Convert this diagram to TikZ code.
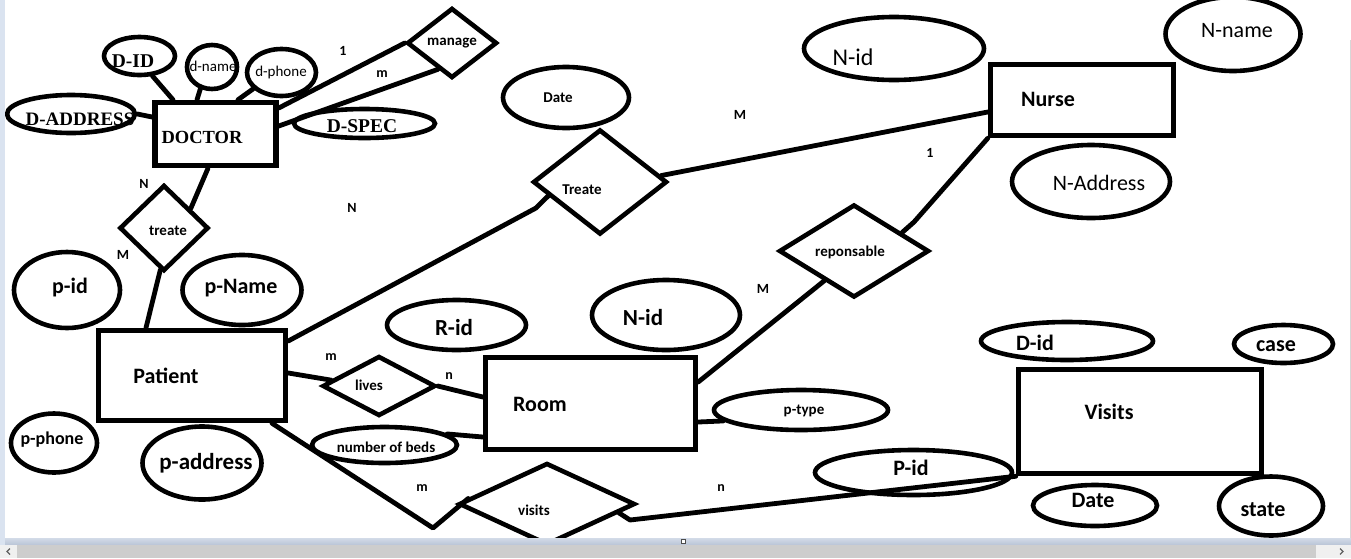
\documentclass[tikz,border=0pt]{standalone}
\usepackage{fontspec}
\setmainfont{Carlito}
\newfontfamily\decofont{Liberation Serif}
\usetikzlibrary{shapes.geometric}
\definecolor{chromeblue}{HTML}{DAE3F0}
\definecolor{bandtop}{HTML}{D3DBE8}
\definecolor{bandbot}{HTML}{B9C4D6}
\definecolor{bargray}{HTML}{CDCDCD}
\definecolor{btngray}{HTML}{F0F0F0}
\definecolor{chev}{HTML}{606060}
\tikzset{
 ln/.style={line width=4.8pt, line cap=round, line join=round},
 ent/.style={draw, line width=5.5pt, rectangle, inner sep=0pt},
 attr/.style={draw, ellipse, line width=4.6pt, inner sep=0pt},
 rel/.style={draw, diamond, line width=4.6pt, inner sep=0pt},
 txt/.style={inner sep=0pt, text=black},
 big/.style={txt, font=\fontsize{22}{22}\selectfont\bfseries},
 sml/.style={txt, font=\fontsize{15}{15}\selectfont\bfseries},
 card/.style={txt, font=\fontsize{14}{14}\selectfont\bfseries},
 thin/.style={txt, font=\fontsize{22}{22}\selectfont},
 reg/.style={txt, font=\fontsize{15}{15}\selectfont},
 deco/.style={txt, font=\decofont\fontsize{19.5}{19.5}\selectfont\bfseries},
}
\begin{document}
\begin{tikzpicture}[x=1pt,y=-1pt]
\useasboundingbox (0,0) rectangle (1351,558);
\fill[white] (0,0) rectangle (1351,558);

% ---------- Doctor ----------
\node[ent, minimum width=121, minimum height=63] (doc) at (215.5,134) {};
\node[deco, font=\decofont\fontsize{18.5}{18.5}\selectfont\bfseries] (tdoc) at (202,137) {DOCTOR};
\node[attr, minimum width=71, minimum height=38] (dID) at (139.5,56) {};
\node[deco] (tdID) at (133,61) {D-ID};
\node[attr, minimum width=50, minimum height=44] (dname) at (212,67) {};
\node[reg] (tdname) at (213,66) {d-name};
\node[attr, minimum width=69, minimum height=47] (dphone) at (281.5,72.5) {};
\node[reg] (tdphone) at (281,72) {d-phone};
\node[attr, minimum width=128, minimum height=38] (dadr) at (71,114) {};
\node[deco, font=\decofont\fontsize{19}{19}\selectfont\bfseries] (tdadr) at (80,119) {D-ADDRESS};
\node[attr, minimum width=141, minimum height=29] (dspec) at (364.5,123.5) {};
\node[deco] (tdspec) at (362,126) {D-SPEC};
\node[rel, minimum width=90, minimum height=70] (mng) at (452,43) {};
\node[sml] (tmng) at (452,43) {manage};
\node[rel, minimum width=89, minimum height=86] (trt) at (164,228) {};
\node[sml] (ttrt) at (168,231) {treate};

% ---------- Patient ----------
\node[ent, minimum width=187, minimum height=90] (pat) at (192,375.5) {};
\node[big] (tpat) at (166,376) {Patient};
\node[attr, minimum width=106, minimum height=76] (pid) at (67,290) {};
\node[big] (tpid) at (70,288) {p-id};
\node[attr, minimum width=119, minimum height=70] (pname) at (242,290) {};
\node[big] (tpname) at (241,288) {p-Name};
\node[attr, minimum width=86, minimum height=59] (pphone) at (54,443) {};
\node[txt, font=\fontsize{18}{18}\selectfont\bfseries] (tpphone) at (52,440) {p-phone};
\node[attr, minimum width=119, minimum height=73] (paddr) at (202,463) {};
\node[big, font=\fontsize{23}{23}\selectfont\bfseries] (tpaddr) at (206,463) {p-address};

% ---------- Treate / Nurse ----------
\node[rel, minimum width=134, minimum height=105] (TRT) at (600,182) {};
\node[sml] (tTRT) at (582,190) {Treate};
\node[attr, minimum width=126, minimum height=61] (dateT) at (566,97.5) {};
\node[sml] (tdateT) at (558,98) {Date};
\node[ent, minimum width=183, minimum height=71] (nur) at (1082,100) {};
\node[big] (tnur) at (1048,99) {Nurse};
\node[attr, minimum width=180, minimum height=63] (nidT) at (894,48.5) {};
\node[thin, font=\fontsize{24}{24}\selectfont] (tnidT) at (853,57) {N-id};
\node[attr, minimum width=135, minimum height=74] (nname) at (1233,34) {};
\node[thin] (tnname) at (1237,31) {N-name};
\node[attr, minimum width=158, minimum height=73] (naddr) at (1091,181.5) {};
\node[thin] (tnaddr) at (1099,183) {N-Address};
\node[rel, minimum width=150, minimum height=93] (resp) at (854,251) {};
\node[sml] (tresp) at (850,252) {reponsable};

% ---------- Room ----------
\node[ent, minimum width=210, minimum height=92] (room) at (590.5,403.5) {};
\node[big] (troom) at (540,404) {Room};
\node[attr, minimum width=139, minimum height=50] (rid) at (456.5,325) {};
\node[big, font=\fontsize{23}{23}\selectfont\bfseries] (trid) at (454,328) {R-id};
\node[attr, minimum width=148, minimum height=70] (nidM) at (666,315) {};
\node[big, font=\fontsize{23}{23}\selectfont\bfseries] (tnidM) at (643,318) {N-id};
\node[rel, minimum width=113, minimum height=60] (lives) at (379,386) {};
\node[sml] (tlives) at (369,385) {lives};
\node[attr, minimum width=145, minimum height=36] (nbeds) at (384.5,445) {};
\node[sml] (tnbeds) at (386,447) {number of beds};
\node[attr, minimum width=174, minimum height=40] (ptype) at (801,410) {};
\node[sml] (tptype) at (804,411) {p-type};

% ---------- Visits ----------
\node[rel, minimum width=176, minimum height=82] (vis) at (547,504) {};
\node[sml] (tvis) at (534,510) {visits};
\node[ent, minimum width=243, minimum height=104] (visr) at (1140,421.5) {};
\node[big] (tvisr) at (1109,412) {Visits};
\node[attr, minimum width=172, minimum height=38] (didV) at (1067,341) {};
\node[big] (tdidV) at (1035,343) {D-id};
\node[attr, minimum width=99, minimum height=38] (caseV) at (1283.5,344) {};
\node[big] (tcaseV) at (1276,346) {case};
\node[attr, minimum width=197, minimum height=45] (pidV) at (913.5,472.5) {};
\node[big] (tpidV) at (911,468) {P-id};
\node[attr, minimum width=124, minimum height=41] (dateV) at (1095,505.5) {};
\node[big] (tdateV) at (1093,500) {Date};
\node[attr, minimum width=104, minimum height=59] (state) at (1271,506) {};
\node[big] (tstate) at (1263,510) {state};

% ---------- connectors ----------
\coordinate (k1) at (536,208);
\coordinate (k2) at (914,222);
\coordinate (k3) at (433,528);
\coordinate (k4) at (630,520);
\draw[ln] (dID.-57) -- (173,0 |- doc.north);
\draw[ln] (dname.-118) -- (197,0 |- doc.north);
\draw[ln] (dphone.-150) -- (238,0 |- doc.north);
\draw[ln] (dadr.east) -- (doc.west |- 0,117);
\draw[ln] (doc.east |- 0,108) -- (mng.west);
\draw[ln] (doc.east |- 0,126) -- (mng.-118);
\draw[ln] (208,0 |- doc.south) -- (trt.36);
\draw[ln] (trt.-95) -- (146,0 |- pat.north);
\draw[ln] (pat.east |- 0,341) -- (k1) -- (TRT.-165);
\draw[ln] (pat.east |- 0,373) -- (lives.173);
\draw[ln] (lives.east) -- (room.west |- 0,397);
\draw[ln] (nbeds.10) -- (room.west |- 0,437);
\draw[ln] (room.east |- 0,422) -- (ptype.-172);
\draw[ln] (room.east |- 0,382) -- (resp.-135);
\draw[ln] (resp.21) -- (k2) -- (nur.south west);
\draw[ln] (TRT.6) -- (nur.west |- 0,112);
\draw[ln] (272,0 |- pat.south) -- (k3) -- (vis.176);
\draw[ln] (vis.-7) -- (k4) -- (visr.south west);

% ---------- cardinalities ----------
\node[card] (c1) at (343,51) {1};
\node[card] (c2) at (382,74) {m};
\node[card] (c3) at (144,184) {N};
\node[card] (c4) at (123,255) {M};
\node[card] (c5) at (352,208) {N};
\node[card] (c6) at (740,115) {M};
\node[card] (c7) at (930,153) {1};
\node[card] (c8) at (763,289) {M};
\node[card] (c9) at (331,357) {m};
\node[card] (c10) at (449,376) {n};
\node[card] (c11) at (422,488) {m};
\node[card] (c12) at (721,488) {n};

% ---------- window chrome ----------
\fill[chromeblue] (0,0) rectangle (5,545);
\draw[bargray!80!white, line width=1pt] (1350,40) -- (1350,538);
\shade[top color=bandtop, bottom color=bandbot] (5,538) rectangle (1351,545);
\fill[bargray] (0,545) rectangle (1351,558);
\fill[btngray] (0,545) rectangle (17,558);
\fill[btngray] (1316,545) rectangle (1351,558);
\draw[chev, line width=1.3pt] (10,548.5) -- (7,551.5) -- (10,554.5);
\draw[chev, line width=1.3pt] (1340,548.5) -- (1343,551.5) -- (1340,554.5);
\draw[black!70, fill=white, line width=0.8pt] (681,539) rectangle (685,543);
\end{tikzpicture}
\end{document}
